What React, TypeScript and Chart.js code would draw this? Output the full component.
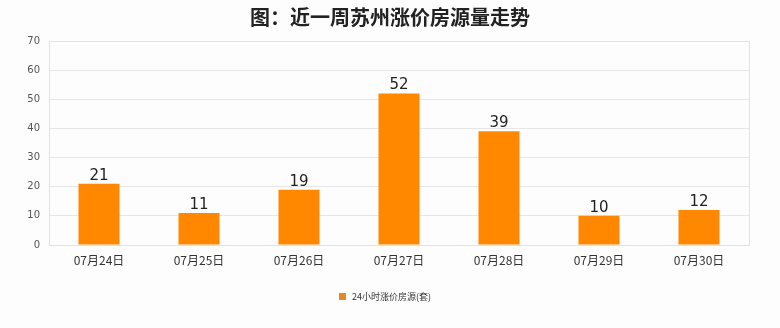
import React, { useEffect, useRef } from "react";
import { Chart, registerables } from "chart.js";

Chart.register(...registerables);

const categories = ["07月24日", "07月25日", "07月26日", "07月27日", "07月28日", "07月29日", "07月30日"];
const values = [21, 11, 19, 52, 39, 10, 12];
const seriesName = "24小时涨价房源(套)";
const titleText = "图：近一周苏州涨价房源量走势";

const CJK = '"Noto Sans CJK SC", "Noto Sans", sans-serif';

const decor = {
  id: "decor",
  beforeDraw(chart: any) {
    const { ctx, width, height } = chart;
    ctx.save();
    ctx.fillStyle = "#fdfdfd";
    ctx.fillRect(0, 0, width, height);
    ctx.restore();
  },
  afterDraw(chart: any) {
    const { ctx, chartArea } = chart;
    ctx.save();
    ctx.strokeStyle = "#e2e2e2";
    ctx.lineWidth = 1;
    ctx.strokeRect(Math.round(chartArea.left) + 0.5, Math.round(chartArea.top) + 0.5, Math.round(chartArea.right - chartArea.left), Math.round(chartArea.bottom - chartArea.top));
    ctx.fillStyle = "#222";
    ctx.font = `bold 20px ${CJK}`;
    ctx.textAlign = "center";
    ctx.textBaseline = "middle";
    ctx.fillText(titleText, 390, 17);
    const meta = chart.getDatasetMeta(0);
    ctx.font = `15px "DejaVu Sans", sans-serif`;
    ctx.fillStyle = "#222";
    ctx.textBaseline = "alphabetic";
    meta.data.forEach((bar: any, i: number) => {
      ctx.fillText(String(values[i]), bar.x, bar.y - 4);
    });
    ctx.fillStyle = "#e58a1f";
    ctx.fillRect(339, 293, 7, 7);
    ctx.fillStyle = "#333";
    ctx.font = `9px ${CJK}`;
    ctx.textAlign = "left";
    ctx.textBaseline = "middle";
    ctx.fillText(seriesName, 352, 297);
    ctx.restore();
  },
};

export default function App() {
  const ref = useRef<HTMLCanvasElement>(null);
  useEffect(() => {
    document.body.style.margin = "0";
    const chart = new Chart(ref.current!, {
      type: "bar",
      data: {
        labels: categories,
        datasets: [
          {
            label: seriesName,
            data: values,
            backgroundColor: "#ff8800",
            categoryPercentage: 1,
            barPercentage: 0.41,
          },
        ],
      },
      options: {
        animation: false,
        responsive: false,
        layout: { padding: { top: 41, left: 0, right: 31, bottom: 0 } },
        plugins: { legend: { display: false }, title: { display: false }, tooltip: { enabled: false } },
        scales: {
          x: {
            grid: { display: false, drawTicks: false },
            border: { display: false },
            ticks: { color: "#333", font: { size: 12, family: CJK }, padding: 8 },
            afterFit(scale: any) {
              scale.height = 83;
            },
          },
          y: {
            min: 0,
            max: 70,
            grid: { color: "#e6e6e6", drawTicks: false },
            border: { display: false },
            ticks: { stepSize: 10, color: "#555", font: { size: 10, family: '"DejaVu Sans", sans-serif' }, padding: 9 },
            afterFit(scale: any) {
              scale.width = 49;
            },
          },
        },
      },
      plugins: [decor],
    });
    return () => chart.destroy();
  }, []);
  return <canvas ref={ref} width={780} height={328} style={{ display: "block" }} />;
}
